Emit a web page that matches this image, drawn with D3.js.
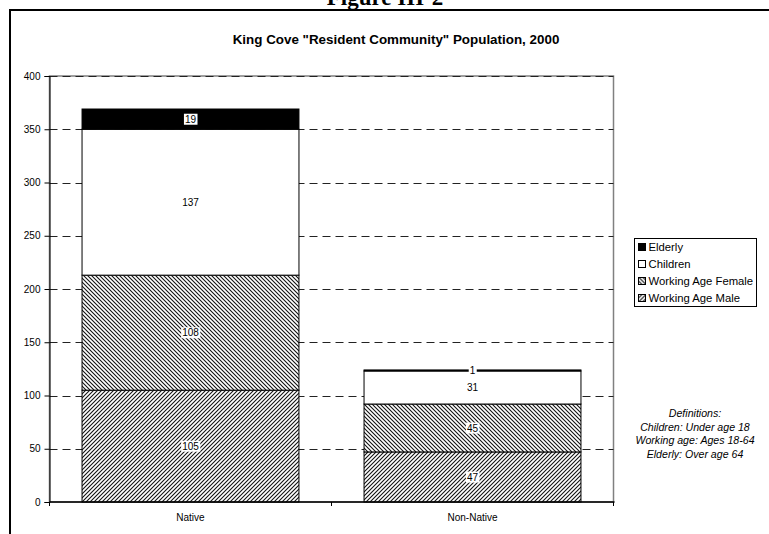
<!DOCTYPE html>
<html>
<head>
<meta charset="utf-8">
<script src="https://cdn.jsdelivr.net/npm/d3@7/dist/d3.min.js"></script>
<style>
  html, body { margin: 0; padding: 0; background: #fff; }
  svg { display: block; }
  text { font-family: "Liberation Sans", Arial, sans-serif; fill: #000; }
</style>
</head>
<body>
<svg id="chart" width="769" height="534"></svg>
<script>
// King Cove resident community population, 2000 (stacked by age/sex group)
const categories = ["Native", "Non-Native"];
const seriesNames = ["Working Age Male", "Working Age Female", "Children", "Elderly"];
const workingAgeMale   = [105, 47];
const workingAgeFemale = [108, 45];
const children         = [137, 31];
const elderly          = [19, 1];
const yTicks = [0, 50, 100, 150, 200, 250, 300, 350, 400];
const definitions = ["Definitions:", "Children:  Under age 18", "Working age:  Ages 18-64", "Elderly:  Over age 64"];

const svg = d3.select("#chart");

// hatch fills
const defs = svg.append("defs");
function hatch(id, forward) {
  const p = defs.append("pattern")
    .attr("id", id).attr("patternUnits", "userSpaceOnUse")
    .attr("width", 4).attr("height", 4);
  p.append("rect").attr("width", 4).attr("height", 4).attr("fill", "#fff");
  const d = forward
    ? "M-1,1 L1,-1 M0,4 L4,0 M3,5 L5,3"
    : "M-1,3 L1,5 M0,0 L4,4 M3,-1 L5,1";
  p.append("path").attr("d", d).attr("stroke", "#111").attr("stroke-width", 1.1);
}
hatch("hatchMale", true);
hatch("hatchFemale", false);

const fills = {
  "Working Age Male": "url(#hatchMale)",
  "Working Age Female": "url(#hatchFemale)",
  "Children": "#fff",
  "Elderly": "#000"
};

// outer frame and figure caption
svg.append("rect").attr("x", 10).attr("y", 10).attr("width", 800).attr("height", 600)
  .attr("fill", "none").attr("stroke", "#000").attr("stroke-width", 2);
svg.append("text").attr("x", 385).attr("y", 5).attr("text-anchor", "middle")
  .style("font-family", "'Liberation Serif', 'Times New Roman', serif")
  .style("font-weight", "bold").style("font-size", "23px").text("Figure III-2");

svg.append("text").attr("x", 396).attr("y", 44).attr("text-anchor", "middle")
  .style("font-weight", "bold").style("font-size", "13.4px")
  .text("King Cove \"Resident Community\" Population, 2000");

// scales
const plotLeft = 49.5, plotRight = 613.5, plotTop = 76, plotBottom = 502;
const gap = 0.3 / 1.3;
const x = d3.scaleBand().domain(categories).range([plotLeft, plotRight])
  .paddingInner(gap).paddingOuter(gap / 2);
const y = d3.scaleLinear().domain([0, 400]).range([plotBottom, plotTop]);

// plot area border
svg.append("rect").attr("x", plotLeft).attr("y", y(400)).attr("width", plotRight - plotLeft)
  .attr("height", plotBottom - y(400)).attr("fill", "none")
  .attr("stroke", "#808080").attr("stroke-width", 1.5);

// dashed gridlines
svg.append("g").selectAll("line").data(yTicks.filter(d => d > 0)).join("line")
  .attr("x1", plotLeft).attr("x2", plotRight)
  .attr("y1", d => Math.round(y(d)) + 0.5).attr("y2", d => Math.round(y(d)) + 0.5)
  .attr("stroke", "#222").attr("stroke-width", 1).attr("stroke-dasharray", "8,5");

// stacked bars
const table = categories.map((c, i) => ({
  category: c,
  "Working Age Male": workingAgeMale[i],
  "Working Age Female": workingAgeFemale[i],
  "Children": children[i],
  "Elderly": elderly[i]
}));
const stacked = d3.stack().keys(seriesNames)(table);

const barG = svg.append("g");
stacked.forEach(layer => {
  barG.append("g").selectAll("rect").data(layer).join("rect")
    .attr("x", d => x(d.data.category))
    .attr("y", d => y(d[1]))
    .attr("width", x.bandwidth())
    .attr("height", d => y(d[0]) - y(d[1]))
    .attr("fill", fills[layer.key])
    .attr("stroke", "#000").attr("stroke-width", 1);
});

// value labels on white boxes
const labelG = svg.append("g");
stacked.forEach(layer => {
  layer.forEach(d => {
    const v = d.data[layer.key];
    const g = labelG.append("g");
    const t = g.append("text")
      .attr("x", x(d.data.category) + x.bandwidth() / 2)
      .attr("y", y((d[0] + d[1]) / 2))
      .attr("dy", "0.36em").attr("text-anchor", "middle")
      .style("font-size", "10px").text(v);
    const b = t.node().getBBox();
    g.insert("rect", "text").attr("x", b.x - 1).attr("y", b.y).attr("width", b.width + 2)
      .attr("height", b.height).attr("fill", "#fff");
  });
});

// y axis
const yAxis = d3.axisLeft(y).tickValues(yTicks).tickSize(5).tickPadding(4);
const yg = svg.append("g").attr("transform", `translate(${plotLeft},0)`).call(yAxis);
yg.select(".domain").attr("stroke", "#000");
yg.selectAll("text").style("font-size", "10px").style("font-family", "'Liberation Sans', Arial, sans-serif");

// x axis
svg.append("line").attr("x1", plotLeft).attr("x2", plotRight + 1).attr("y1", plotBottom).attr("y2", plotBottom)
  .attr("stroke", "#000").attr("stroke-width", 1.3);
svg.append("g").selectAll("line").data([plotLeft, (plotLeft + plotRight) / 2, plotRight]).join("line")
  .attr("x1", d => d).attr("x2", d => d).attr("y1", plotBottom).attr("y2", plotBottom + 4)
  .attr("stroke", "#000");
svg.append("g").selectAll("text").data(categories).join("text")
  .attr("x", d => x(d) + x.bandwidth() / 2).attr("y", 521)
  .attr("text-anchor", "middle").style("font-size", "10px").text(d => d);

// legend
const legendOrder = ["Elderly", "Children", "Working Age Female", "Working Age Male"];
svg.append("rect").attr("x", 634.5).attr("y", 238.5).attr("width", 122).attr("height", 68)
  .attr("fill", "#fff").attr("stroke", "#000").attr("stroke-width", 1);
const lg = svg.append("g").selectAll("g").data(legendOrder).join("g")
  .attr("transform", (d, i) => `translate(638.5,${247 + i * 17})`);
lg.append("rect").attr("x", 0).attr("y", -3.5).attr("width", 7).attr("height", 7)
  .attr("fill", d => fills[d]).attr("stroke", "#000").attr("stroke-width", 1);
lg.append("text").attr("x", 10).attr("y", 0).attr("dy", "0.36em")
  .style("font-size", "11.3px").text(d => d);

// definitions note
svg.append("g").selectAll("text").data(definitions).join("text")
  .attr("x", 695).attr("y", (d, i) => 417 + i * 13.5).attr("text-anchor", "middle")
  .style("font-size", "10.6px").style("font-style", "italic").text(d => d);
</script>
</body>
</html>
